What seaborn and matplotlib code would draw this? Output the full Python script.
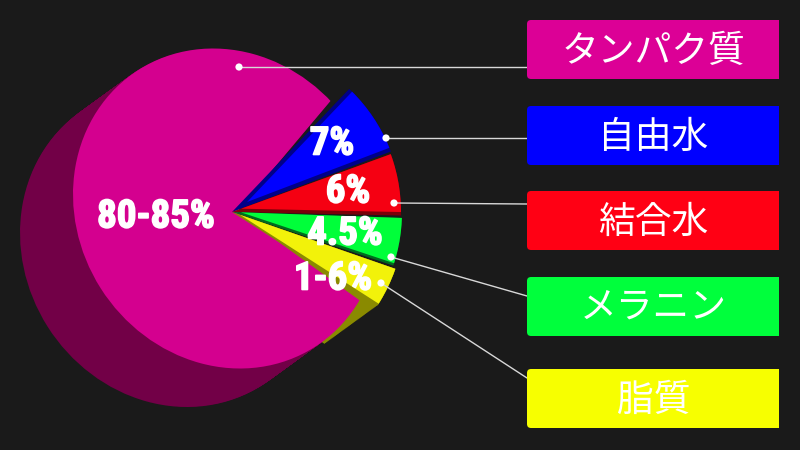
import numpy as np
import matplotlib
matplotlib.use("Agg")
import matplotlib.pyplot as plt
import matplotlib.patheffects as pe
from matplotlib import font_manager as fm
from matplotlib.patches import Circle, Ellipse, FancyBboxPatch, Rectangle
import seaborn as sns

# ---------- data ----------
categories = ["タンパク質", "自由水", "結合水", "メラニン", "脂質"]
drawn_shares = [76.2, 7.1, 5.9, 4.55, 3.75]   # share of the circle as drawn
value_labels = ["80-85%", "7%", "6%", "4.5%", "1-6%"]
bright_colors = ["#D4008F", "#0000FF", "#F50012", "#00FF3A", "#F2F20A"]
dark_colors = ["#720047", "#000088", "#7A0009", "#006B1E", "#8A8A00"]
box_colors = ["#DC0096", "#0000FF", "#FF0014", "#00FF3C", "#F7FF00"]

# ---------- layout (pixels, y down) ----------
BG = "#1A1A1A"
FIRST_EDGE = 46.4
PAD = 0.8
MAIN_EDGE = 49.9
MAIN_APEX = (237, 212)
ELL_C = (226.5, 208.5)
ELL_SX, ELL_SY, ELL_TILT = 153.5, 160, 13.5
EXTRUDE = (-53, 38.5)
slice_radii = [None, 170, 169, 170, 173]
box_tops = [20, 106, 191, 277, 369]
box_h = 59
leader_from = [(239, 67), (386, 138), (394, 203), (391, 257), (381, 283)]
leader_to = [(527, 67), (527, 138), (527, 204), (527, 296), (527, 378)]
label_xy = [(156, 217), (332, 144), (348, 192), (345, 234), (333, 279)]

sns.set_theme(style="dark", rc={"figure.facecolor": BG, "axes.facecolor": BG})
palette = sns.color_palette(bright_colors)

# condensed heavy face for the value labels, if one is installed
label_font, label_size = "Liberation Sans", 26
have = {f.name for f in fm.fontManager.ttflist}
for name in ["Liberation Sans Narrow", "Roboto Condensed", "Open Sans Condensed",
             "Noto Sans Condensed", "DejaVu Sans Condensed"]:
    if name in have:
        label_font, label_size = name, 28
        break

fig = plt.figure(figsize=(8, 4.5), dpi=100, facecolor=BG)
ax = fig.add_axes([0, 0, 1, 1])
ax.set_xlim(0, 800)
ax.set_ylim(0, 450)


def Y(y):
    return 450 - y


def slice_(start, span, cx, cy, r, color, z):
    wedges, _ = ax.pie([span, 360 - span], startangle=start, colors=[color, "none"],
                       center=(cx, Y(cy)), radius=r, frame=True,
                       wedgeprops={"linewidth": 0})
    wedges[1].remove()
    wedges[0].set_zorder(z)
    return wedges[0]


def clip_to(w, patch):
    w.set_clip_on(True)
    w.set_clip_path(patch)


# tilted ellipse outline of the main slice (perspective look)
cov = np.array([[ELL_SX**2, -ELL_TILT * ELL_SY], [-ELL_TILT * ELL_SY, ELL_SY**2]])
vals, vecs = np.linalg.eigh(cov)
ell_w, ell_h = 2 * np.sqrt(vals[1]), 2 * np.sqrt(vals[0])
ell_ang = np.degrees(np.arctan2(vecs[1, 1], vecs[0, 1]))


def main_slice(dx, dy, color, z):
    w = slice_(MAIN_EDGE, drawn_shares[0] * 3.6, MAIN_APEX[0] + dx, MAIN_APEX[1] + dy,
               260, color, z)
    clip_to(w, Ellipse((ELL_C[0] + dx, Y(ELL_C[1] + dy)), ell_w, ell_h, angle=ell_ang,
                       transform=ax.transData))


for t in np.linspace(1, 0.02, 70):
    main_slice(EXTRUDE[0] * t, EXTRUDE[1] * t, dark_colors[0], 1)
main_slice(0, 0, palette[0], 3)

# small slices
cx, cy = 232, 212
strip = [4, 3.5, 2.5, 2]
edge = FIRST_EDGE
for i in range(1, 5):
    span = drawn_shares[i] * 3.6
    start = edge - span
    R = slice_radii[i]
    if i == 4:  # long olive extrusion beneath the main slice
        for t in np.linspace(0, 1, 50):
            slice_(start, span, cx + EXTRUDE[0] * t, cy + EXTRUDE[1] * t, R, dark_colors[4], 2)
    slice_(start, span, cx, cy, R, dark_colors[i], 4)
    if i == 1:
        ang = np.radians(start + span / 2)
        d = strip[0] / np.sin(np.radians(span / 2))
    else:
        ang = np.radians(edge)
        d = strip[i - 1] / np.sin(np.radians(span))
    w = slice_(start, span, cx + d * np.cos(ang), cy - d * np.sin(ang), 220,
               bright_colors[i], 5)
    clip_to(w, Circle((cx, Y(cy)), R, transform=ax.transData))
    edge = start - PAD

# leaders and dots
for (x0, y0), (x1, y1) in zip(leader_from, leader_to):
    ax.plot([x0, x1], [Y(y0), Y(y1)], color="#D8D8D8", lw=1.0, zorder=6)
    ax.add_patch(Circle((x0, Y(y0)), 3.6, color="white", zorder=7, lw=0))

# value labels
for txt, (x, y) in zip(value_labels, label_xy):
    ax.text(x, Y(y), txt, ha="center", va="center", color="white", fontsize=label_size,
            fontweight="bold", family=label_font,
            zorder=8, path_effects=[pe.withStroke(linewidth=1.2, foreground="white")])

# category boxes
for name, top, col in zip(categories, box_tops, box_colors):
    ax.add_patch(FancyBboxPatch((531, Y(top + box_h) + 4), 244, box_h - 8,
                                boxstyle="round,pad=4,rounding_size=4",
                                fc=col, ec="none", zorder=6))
    ax.add_patch(Rectangle((600, Y(top + box_h)), 179, box_h, fc=col, ec="none", zorder=6))
    ax.text(653.5, Y(top + box_h / 2 + 2), name, ha="center", va="center",
            color="white", fontsize=26.5, fontweight="normal",
            family=["Noto Sans CJK JP", "DejaVu Sans"], zorder=8)

ax.set_xlim(0, 800)
ax.set_ylim(0, 450)
ax.set_aspect("equal")
ax.set_xticks([])
ax.set_yticks([])
for s in ax.spines.values():
    s.set_visible(False)
fig.savefig("out.png", dpi=100, facecolor=BG)
